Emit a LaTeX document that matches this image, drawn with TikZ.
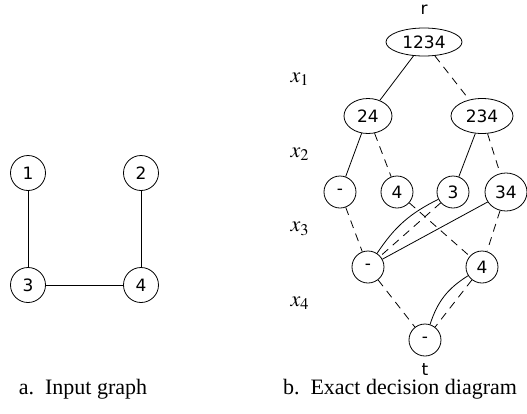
\documentclass[tikz,border=0pt]{standalone}
\usepackage{mathptmx}
\usepackage{fontspec}
\setmainfont{Liberation Serif}
\newfontfamily\ddfont{DejaVu Sans}
\usetikzlibrary{shapes.geometric}

\begin{document}
\begin{tikzpicture}[x=0.5pt,y=-0.5pt,
  vx/.style={circle,draw,minimum size=17.5pt,inner sep=0pt,font=\ddfont\fontsize{8.5}{10}\selectfont},
  dd/.style={circle,draw,minimum size=16pt,inner sep=0pt,font=\ddfont\fontsize{8.5}{10}\selectfont},
  ddl/.style={ellipse,draw,inner sep=0pt,minimum height=17.5pt,font=\ddfont\fontsize{8.5}{10}\selectfont},
  tag/.style={font=\ddfont\fontsize{8.5}{10}\selectfont},
  one/.style={thin},
  zero/.style={thin,dash pattern=on 4pt off 3pt},
  subcap/.style={font=\fontsize{11}{13}\selectfont}]
\useasboundingbox (0,0) rectangle (527,414);
% left: input graph
\node[vx] (g1) at (28,173) {1};
\node[vx] (g2) at (141,173) {2};
\node[vx] (g3) at (28,285) {3};
\node[vx] (g4) at (141,285) {4};
\foreach \a/\b in {g1/g3,g2/g4,g3/g4}{\draw (\a)--(\b);}
\node[subcap] (capa) at (83,389) {a.\ \ Input graph};
% right: exact decision diagram
\node[tag] (rlab) at (424,10) {r};
\node[ddl,minimum width=38pt,minimum height=14pt] (root) at (424,42) {1234};
\node[ddl,minimum width=24pt] (u24) at (368,116) {24};
\node[ddl,minimum width=31pt] (u234) at (482,116) {234};
\node[dd] (v0) at (340,192) {-};
\node[dd] (v4) at (397,192) {4};
\node[dd] (v3) at (453,192) {3};
\node[ddl,minimum width=21pt,minimum height=19pt] (v34) at (506,192) {34};
\node[dd] (w0) at (368,267) {-};
\node[dd] (w4) at (482,267) {4};
\node[dd] (term) at (425,340) {-};
\node[tag] (tlab) at (425,370) {t};
% layer labels
\foreach \i/\y in {1/79,2/154,3/229,4/303}{\node[subcap] (x\i) at (300,\y) {$x_{\i}$};}
% arcs
\foreach \a/\b in {root/u24,u24/v0,u234/v3,v34/w0}{\draw[one] (\a)--(\b);}
\foreach \a/\b in {root/u234,u24/v4,u234/v34,v0/w0,v4/w4,v3/w0,v34/w4,w0/term,w4/term}{\draw[zero] (\a)--(\b);}
\draw[one] (v3) to[bend right=15] (w0);
\draw[one] (w4) to[bend right=20] (term);
\node[subcap] (capb) at (400,389) {b.\ \ Exact decision diagram};
\end{tikzpicture}
\end{document}
